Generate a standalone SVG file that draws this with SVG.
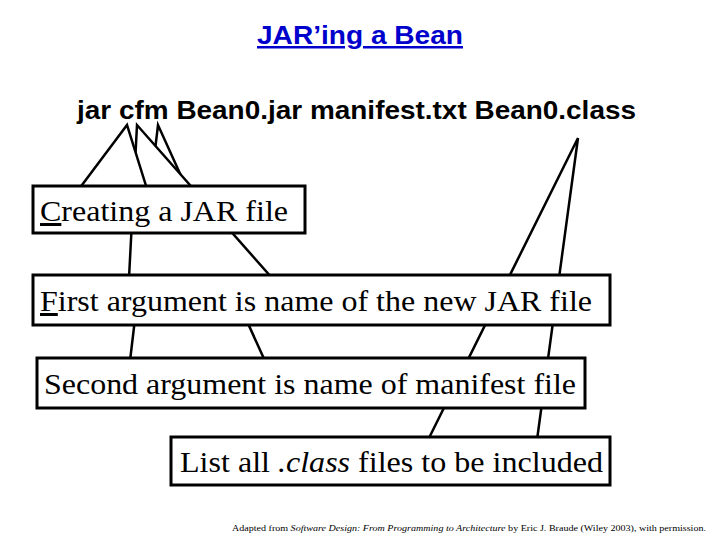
<svg xmlns="http://www.w3.org/2000/svg" width="720" height="540" viewBox="0 0 720 540">
<style>
.w{fill:#fff;stroke:#000;stroke-width:2.5;stroke-linejoin:miter}
.b{fill:#fff;stroke:#000;stroke-width:3}
.t{font-family:"Liberation Serif",serif;font-size:30px}
.h{font-family:"Liberation Sans",sans-serif;font-weight:bold;font-size:25px}
</style>
<rect width="720" height="540" fill="#fff"/>
<text x="257" y="44" class="h" fill="#0000cc" text-decoration="underline" textLength="206" lengthAdjust="spacingAndGlyphs">JAR’ing a Bean</text>
<text x="77" y="119" class="h" textLength="559" lengthAdjust="spacingAndGlyphs">jar cfm Bean0.jar manifest.txt Bean0.class</text>
<g id="connectors">
<polygon class="w" points="428,440 578,138 537,440"/>
</g>
<g id="n4"><rect class="b" x="171" y="437" width="439" height="48"/>
<text x="180" y="472" class="t" textLength="423" lengthAdjust="spacingAndGlyphs">List all <tspan font-style="italic">.class</tspan> files to be included</text></g>
<g id="c3"><polygon class="w" points="130,361 158,125 265,361"/></g>
<g id="n3"><rect class="b" x="37" y="358" width="548" height="50"/>
<text x="44" y="394" class="t" textLength="532" lengthAdjust="spacingAndGlyphs">Second argument is name of manifest file</text></g>
<g id="c2"><polygon class="w" points="129,278 137,125 272,278"/></g>
<g id="n2"><rect class="b" x="33" y="275" width="577" height="50"/>
<text x="40" y="311" class="t" textLength="552" lengthAdjust="spacingAndGlyphs"><tspan text-decoration="underline">F</tspan>irst argument is name of the new JAR file</text></g>
<g id="c1"><polygon class="w" points="79,189 127,125 147,189"/></g>
<g id="n1"><rect class="b" x="33" y="186" width="272" height="47"/>
<text x="40" y="221" class="t" textLength="248" lengthAdjust="spacingAndGlyphs"><tspan text-decoration="underline">C</tspan>reating a JAR file</text></g>
<text x="232" y="531" font-family="Liberation Serif,serif" font-size="9" textLength="474" lengthAdjust="spacingAndGlyphs">Adapted from <tspan font-style="italic">Software Design: From Programming to Architecture</tspan> by Eric J. Braude (Wiley 2003), with permission.</text>
</svg>
